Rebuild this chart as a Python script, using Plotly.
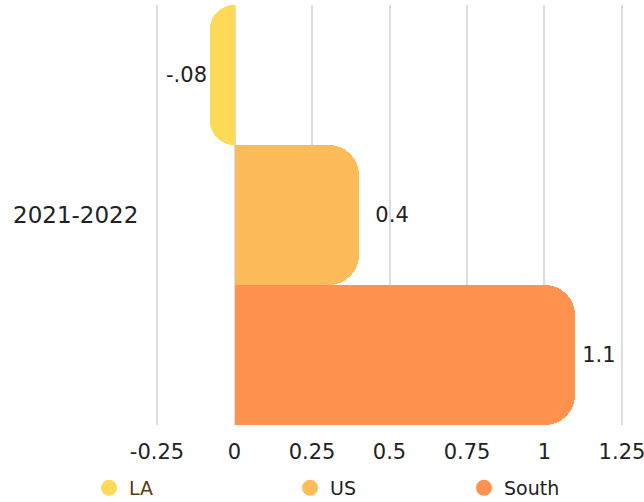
import plotly.graph_objects as go

categories = ["2021-2022"]
series_names = ["LA", "US", "South"]
series_values = [[-0.08], [0.4], [1.1]]
series_text = ["-.08", "\u00a0\u00a00.4", "\u20091.1"]
colors = ["#FFDA57", "#FEBB5A", "#FF924E"]
legend_text_colors = ["#5A3C12", "#222222", "#222222"]
tick_vals = [-0.25, 0, 0.25, 0.5, 0.75, 1, 1.25]
tick_text = ["-0.25", "0", "0.25", "0.5", "0.75", "1", "1.25"]

FONT = "DejaVu Sans, sans-serif"
fig = go.Figure()
for name, vals, txt, col in zip(series_names, series_values, series_text, colors):
    fig.add_trace(go.Bar(
        y=categories, x=vals, name=name, orientation="h",
        marker=dict(color=col, line=dict(width=0)),
        text=[txt], textposition="outside", cliponaxis=False,
        textfont=dict(size=21, color="#222222", family=FONT),
        showlegend=False, hoverinfo="skip",
    ))

legend_x_px = [111, 312, 486]
legend_keys = ["legend", "legend2", "legend3"]
for i, (name, col) in enumerate(zip(series_names, colors)):
    fig.add_trace(go.Scatter(
        x=[None], y=[None], mode="markers",
        name=f"<span style='color:{legend_text_colors[i]}'>{name}</span>",
        marker=dict(color=col, size=16, symbol="circle"),
        showlegend=True, legend=legend_keys[i],
    ))

legend_common = dict(orientation="h", xref="container", yref="container",
                      y=1 - 488 / 502, yanchor="middle", bgcolor="rgba(0,0,0,0)",
                      font=dict(size=19, family=FONT, color="#222222"),
                      itemsizing="trace")
layout_legends = {}
for i, key in enumerate(legend_keys):
    d = dict(legend_common)
    d["x"] = (legend_x_px[i] - 22) / 644
    d["xanchor"] = "left"
    layout_legends[key] = d

fig.update_layout(
    width=644, height=502,
    margin=dict(l=155, r=20, t=5, b=77, autoexpand=False),
    paper_bgcolor="white", plot_bgcolor="white",
    barmode="group", bargap=0, bargroupgap=0,
    barcornerradius=30,
    font=dict(family=FONT, color="#222222"),
    xaxis=dict(range=[-0.2565, 1.2565], tickvals=tick_vals, ticktext=tick_text,
               showgrid=True, gridcolor="#DDDDDD", gridwidth=2,
               zeroline=False, showline=False, automargin=False,
               ticklabeloverflow="allow",
               ticks="outside", ticklen=8, tickcolor="rgba(0,0,0,0)",
               tickfont=dict(size=21, family=FONT, color="#222222")),
    yaxis=dict(autorange="reversed", showgrid=False, zeroline=False, showline=False,
               automargin=False,
               ticks="outside", ticklen=11, tickcolor="rgba(0,0,0,0)",
               tickfont=dict(size=23, family=FONT, color="#222222")),
    **layout_legends,
)

fig.write_html("out.html", config={"displayModeBar": False},
               post_script="document.body.style.margin='0';document.body.style.overflow='hidden';")
